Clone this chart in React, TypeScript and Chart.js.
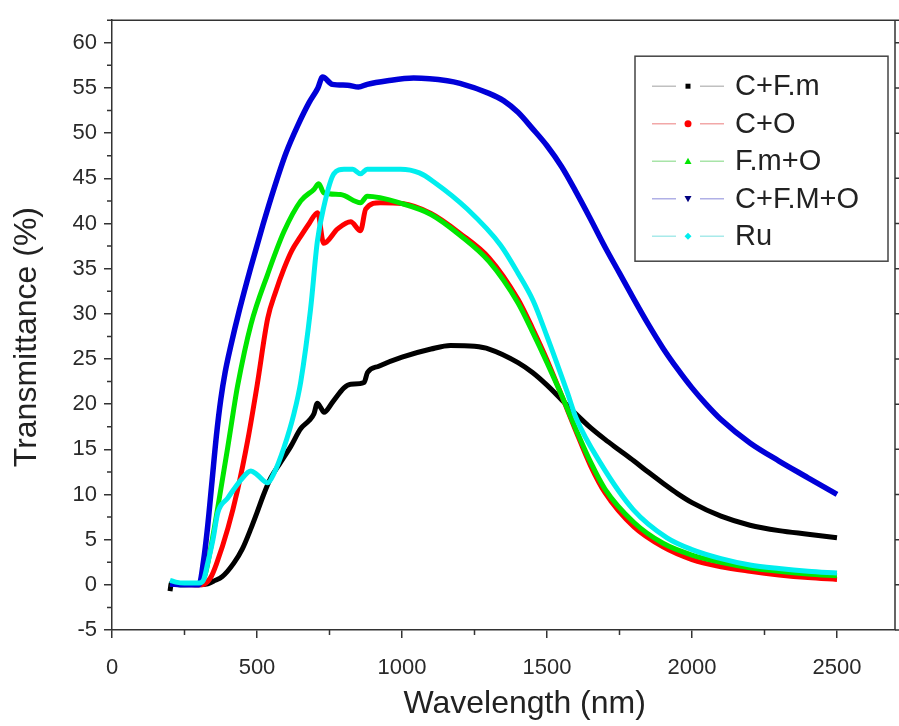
import React, { useEffect, useRef } from 'react';
import { Chart, registerables } from 'chart.js';
Chart.register(...registerables);

const seriesNames = ['C+F.m', 'C+O', 'F.m+O', 'C+F.M+O', 'Ru'];
const lineColors = ['#000000', '#ff0000', '#00e600', '#0000d8', '#00eeee'];
const legendLineColors = ['#c0c0c0', '#f2a8a8', '#a8e4a8', '#b0b0e6', '#a8eaea'];
const markerShapes = ['square', 'circle', 'triangle', 'triangleDown', 'diamond'];

const xTickValues = [0, 500, 1000, 1500, 2000, 2500];
const yTickValues = [-5, 0, 5, 10, 15, 20, 25, 30, 35, 40, 45, 50, 55, 60];

const blackX = [200, 205, 250, 300, 330, 350, 380, 420, 450, 480, 500, 523, 547, 580, 616, 651, 680, 696, 708, 720, 731, 760, 800, 823, 869, 881, 920, 1000, 1100, 1167, 1250, 1300, 1400, 1450, 1500, 1550, 1600, 1650, 1700, 1750, 1800, 1850, 1900, 1950, 2000, 2100, 2200, 2300, 2400, 2500];
const blackY = [-0.7, 0.2, 0.1, 0.0, 0.1, 0.4, 0.9, 2.4, 4.0, 6.3, 8.0, 10.0, 11.8, 13.5, 15.3, 17.3, 18.2, 18.9, 20.1, 19.6, 19.1, 20.2, 21.8, 22.2, 22.4, 23.5, 24.2, 25.2, 26.1, 26.5, 26.4, 26.1, 24.6, 23.5, 22.1, 20.5, 18.9, 17.4, 16.1, 14.9, 13.7, 12.45, 11.25, 10.1, 9.1, 7.6, 6.6, 6.0, 5.6, 5.2];

const redX = [200, 250, 310, 340, 360, 400, 433, 468, 500, 537, 565, 593, 620, 651, 680, 709, 730, 778, 823, 857, 875, 926, 1000, 1100, 1200, 1300, 1400, 1450, 1500, 1550, 1600, 1650, 1700, 1800, 1900, 2000, 2100, 2200, 2300, 2400, 2500];
const redY = [0.1, 0.0, 0.0, 0.8, 2.3, 6.3, 10.5, 16.0, 22.0, 29.5, 32.5, 35.0, 37.0, 38.6, 40.0, 41.2, 37.8, 39.4, 40.2, 39.2, 41.6, 42.3, 42.2, 41.1, 38.9, 36.2, 31.6, 28.4, 24.9, 21.0, 17.0, 13.2, 10.2, 6.4, 4.2, 2.8, 2.0, 1.5, 1.1, 0.8, 0.6];

const greenX = [200, 250, 300, 320, 340, 365, 399, 420, 433, 479, 537, 593, 651, 697, 713, 730, 788, 857, 880, 1000, 1100, 1200, 1300, 1400, 1450, 1500, 1550, 1600, 1650, 1700, 1800, 1900, 2000, 2100, 2200, 2300, 2400, 2500];
const greenY = [0.1, 0.0, 0.2, 1.0, 4.0, 8.6, 15.2, 19.5, 22.0, 28.8, 34.4, 39.1, 42.5, 43.8, 44.4, 43.4, 43.2, 42.3, 43.0, 42.2, 41.0, 38.7, 35.8, 31.2, 28.0, 24.6, 21.0, 17.2, 13.6, 10.6, 6.9, 4.6, 3.3, 2.5, 1.9, 1.5, 1.2, 1.0];

const blueX = [200, 250, 300, 315, 330, 345, 360, 375, 390, 410, 440, 480, 520, 560, 600, 640, 680, 710, 726, 760, 812, 850, 880, 950, 1040, 1156, 1200, 1300, 1350, 1400, 1450, 1500, 1550, 1600, 1650, 1700, 1750, 1800, 1850, 1900, 1950, 2000, 2050, 2100, 2200, 2300, 2400, 2500];
const blueY = [0.1, 0.0, 0.0, 2.5, 6.5, 11.5, 16.5, 20.5, 23.5, 26.5, 30.5, 35.3, 39.8, 44.0, 47.8, 50.8, 53.4, 55.0, 56.2, 55.4, 55.3, 55.1, 55.4, 55.8, 56.1, 55.8, 55.5, 54.4, 53.6, 52.3, 50.5, 48.6, 46.3, 43.5, 40.5, 37.4, 34.5, 31.6, 28.8, 26.2, 23.9, 21.8, 19.95, 18.3, 15.7, 13.7, 11.85, 10.0];

const cyanX = [200, 220, 250, 300, 315, 330, 348, 365, 399, 444, 479, 500, 537, 558, 593, 627, 651, 685, 708, 730, 765, 800, 830, 857, 880, 995, 1060, 1110, 1225, 1340, 1400, 1453, 1500, 1570, 1600, 1684, 1798, 1914, 2000, 2100, 2200, 2300, 2400, 2500];
const cyanY = [0.5, 0.3, 0.2, 0.2, 0.5, 2.4, 5.0, 8.0, 9.6, 11.6, 12.6, 12.2, 11.3, 12.3, 15.2, 18.9, 22.5, 30.6, 38.0, 41.8, 45.5, 46.0, 46.0, 45.5, 46.0, 46.0, 45.6, 44.6, 41.6, 37.6, 34.5, 31.4, 27.5, 21.3, 18.5, 13.5, 8.3, 5.2, 3.9, 2.9, 2.2, 1.8, 1.5, 1.3];

const allX = [blackX, redX, greenX, blueX, cyanX];
const allY = [blackY, redY, greenY, blueY, cyanY];

const FONT = "'Liberation Sans', Arial, sans-serif";

function drawMarker(ctx: CanvasRenderingContext2D, shape: string, x: number, y: number, color: string) {
  ctx.fillStyle = color;
  ctx.beginPath();
  const r = 3.5;
  if (shape === 'square') {
    ctx.rect(x - 2.5, y - 2.5, 5, 5);
  } else if (shape === 'circle') {
    ctx.arc(x, y, r, 0, Math.PI * 2);
  } else if (shape === 'triangle') {
    ctx.moveTo(x, y - r);
    ctx.lineTo(x + r, y + r * 0.8);
    ctx.lineTo(x - r, y + r * 0.8);
    ctx.closePath();
  } else if (shape === 'triangleDown') {
    ctx.moveTo(x, y + r);
    ctx.lineTo(x + r, y - r * 0.8);
    ctx.lineTo(x - r, y - r * 0.8);
    ctx.closePath();
  } else {
    ctx.moveTo(x, y - r);
    ctx.lineTo(x + r, y);
    ctx.lineTo(x, y + r);
    ctx.lineTo(x - r, y);
    ctx.closePath();
  }
  ctx.fill();
}

const decorPlugin = {
  id: 'decor',
  afterDraw(chart: any) {
    const ctx: CanvasRenderingContext2D = chart.ctx;
    const ca = chart.chartArea;
    const xs = chart.scales.x;
    const ys = chart.scales.y;
    ctx.save();
    ctx.strokeStyle = '#333';
    ctx.lineWidth = 1.5;
    ctx.beginPath();
    for (let v = 250; v <= 2700; v += 500) {
      const px = xs.getPixelForValue(v);
      ctx.moveTo(px, ca.bottom);
      ctx.lineTo(px, ca.bottom + 5);
    }
    for (let v = -2.5; v <= 62.5; v += 5) {
      const py = ys.getPixelForValue(v);
      ctx.moveTo(ca.left - 5, py);
      ctx.lineTo(ca.left, py);
    }
    ctx.moveTo(ca.left, ca.top);
    ctx.lineTo(chart.width, ca.top);
    ctx.moveTo(ca.right, ca.top);
    ctx.lineTo(ca.right, ca.bottom);
    for (const v of yTickValues) {
      const py = ys.getPixelForValue(v);
      ctx.moveTo(ca.right, py);
      ctx.lineTo(ca.right + 5, py);
    }
    ctx.stroke();

    const bx = ca.right - 260;
    const by = ca.top + 36;
    const bw = 253;
    const bh = 205;
    ctx.fillStyle = '#ffffff';
    ctx.fillRect(bx, by, bw, bh);
    ctx.strokeStyle = '#444';
    ctx.lineWidth = 1.5;
    ctx.strokeRect(bx, by, bw, bh);
    ctx.font = `29px ${FONT}`;
    ctx.textBaseline = 'middle';
    ctx.textAlign = 'left';
    seriesNames.forEach((name, i) => {
      const y = by + 30 + i * 37.5;
      ctx.strokeStyle = legendLineColors[i];
      ctx.lineWidth = 1.5;
      ctx.beginPath();
      ctx.moveTo(bx + 17, y);
      ctx.lineTo(bx + 41, y);
      ctx.moveTo(bx + 65, y);
      ctx.lineTo(bx + 89, y);
      ctx.stroke();
      drawMarker(ctx, markerShapes[i], bx + 53, y, i === 0 ? '#000' : i === 3 ? '#000080' : lineColors[i]);
      ctx.fillStyle = '#222';
      ctx.fillText(name, bx + 100, y + 1);
    });

    ctx.fillStyle = '#222';
    ctx.font = `32px ${FONT}`;
    ctx.textAlign = 'center';
    ctx.textBaseline = 'middle';
    ctx.fillText('Wavelength (nm)', ca.left + (ca.right - ca.left) * 0.527, 704);
    ctx.translate(27, (ca.top + ca.bottom) / 2 + 12);
    ctx.rotate(-Math.PI / 2);
    ctx.fillText('Transmittance (%)', 0, 0);
    ctx.restore();
  },
};

export default function App() {
  const ref = useRef<HTMLCanvasElement>(null);
  useEffect(() => {
    if (!ref.current) return;
    const datasets = seriesNames.map((name, i) => ({
      label: name,
      data: allX[i].map((x, j) => ({ x, y: allY[i][j] })),
      borderColor: lineColors[i],
      backgroundColor: lineColors[i],
      borderWidth: i === 3 ? 5.5 : 5,
      pointRadius: 0,
      cubicInterpolationMode: 'monotone' as const,
      fill: false,
      order: 5 - i,
    }));
    const chart = new Chart(ref.current, {
      type: 'line',
      data: { datasets },
      options: {
        animation: false,
        responsive: false,
        layout: { padding: { top: 17, right: 4, left: 0, bottom: 0 } },
        plugins: { legend: { display: false }, tooltip: { enabled: false } },
        scales: {
          x: {
            type: 'linear',
            min: 0,
            max: 2700,
            afterFit: (s: any) => { s.height = 96; },
            afterBuildTicks: (s: any) => { s.ticks = xTickValues.map((v) => ({ value: v })); },
            ticks: {
              font: { size: 22, family: FONT },
              color: '#2a2a2a',
              padding: 17,
              maxRotation: 0,
              autoSkip: false,
              callback: (v: any) => String(v),
            },
            grid: { drawOnChartArea: false, drawTicks: true, tickLength: 8, color: '#333', lineWidth: 1.5 },
            border: { display: true, color: '#333', width: 1.5 },
          },
          y: {
            type: 'linear',
            min: -5,
            max: 62.5,
            afterFit: (s: any) => { s.width = 112; },
            afterBuildTicks: (s: any) => { s.ticks = yTickValues.map((v) => ({ value: v })); },
            ticks: {
              font: { size: 22, family: FONT },
              color: '#2a2a2a',
              padding: 7,
              autoSkip: false,
              callback: (v: any) => String(v),
            },
            grid: { drawOnChartArea: false, drawTicks: true, tickLength: 8, color: '#333', lineWidth: 1.5 },
            border: { display: true, color: '#333', width: 1.5 },
          },
        },
      },
      plugins: [decorPlugin],
    });
    return () => chart.destroy();
  }, []);
  return (
    <div style={{ position: 'absolute', left: 0, top: 0, width: 899, height: 726, background: '#fff' }}>
      <canvas ref={ref} width={899} height={726} />
    </div>
  );
}
